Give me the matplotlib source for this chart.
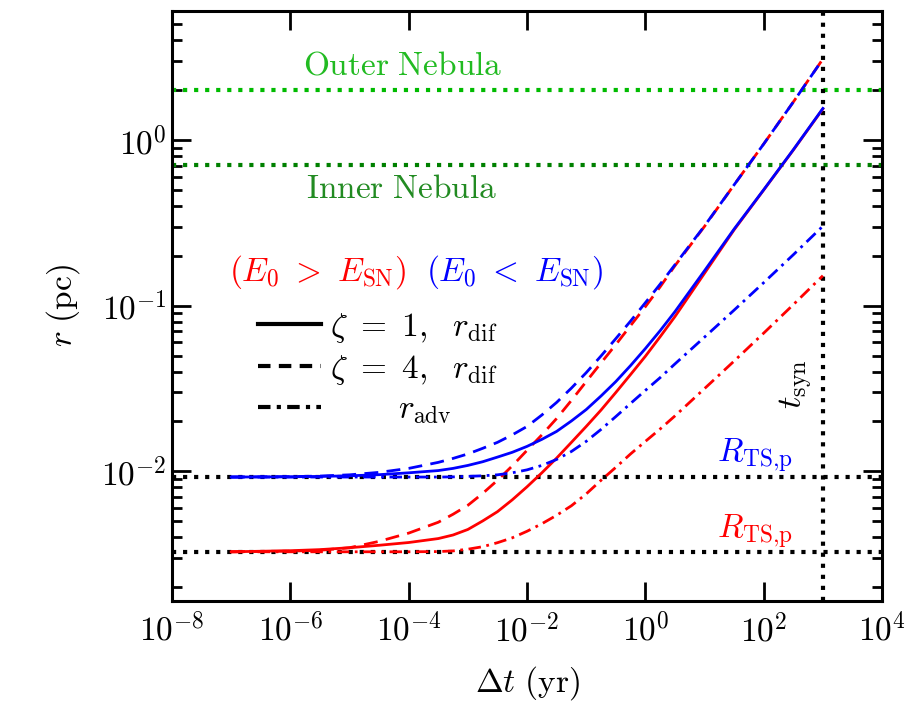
import math
import matplotlib
matplotlib.use('Agg')
import matplotlib.pyplot as plt
from matplotlib.lines import Line2D
from matplotlib.ticker import FuncFormatter, NullLocator

plt.rcParams['mathtext.fontset'] = 'cm'
plt.rcParams['font.family'] = ['cmr10', 'DejaVu Serif']
plt.rcParams['axes.formatter.use_mathtext'] = True

# time since injection (yr)
t_yr = [1e-7, 1e-6, 3.16e-6, 1e-5, 3.16e-5, 1e-4, 3.16e-4, 5.62e-4, 1e-3, 1.78e-3,
        3.16e-3, 5.62e-3, 1e-2, 1.78e-2, 3.16e-2, 5.62e-2, 0.1, 0.178, 0.316, 0.562,
        1.0, 1.78, 3.16, 10.0, 31.6, 100.0, 316.0, 1000.0]

# E0 < E_SN (blue), radii in pc
blue_dif_z1 = [0.00924, 0.00927, 0.00932, 0.0094, 0.00955, 0.0098, 0.01011, 0.01042, 0.01086,
               0.01143, 0.01219, 0.01303, 0.01415, 0.0156, 0.01742, 0.02014, 0.0236, 0.0285,
               0.0348, 0.0435, 0.0551, 0.0707, 0.092, 0.1626, 0.29, 0.501, 0.873, 1.55]
blue_dif_z4 = [0.00924, 0.00929, 0.00937, 0.00953, 0.00986, 0.01042, 0.01133, 0.01197, 0.01274,
               0.01377, 0.01496, 0.0166, 0.01866, 0.02188, 0.02606, 0.0318, 0.0394, 0.0497,
               0.0632, 0.0807, 0.1042, 0.1349, 0.1766, 0.303, 0.536, 0.946, 1.694, 3.08]
blue_adv = [0.00924, 0.00924, 0.00924, 0.00924, 0.00924, 0.00924, 0.00924, 0.00926, 0.00933,
            0.0094, 0.00953, 0.0098, 0.01021, 0.01086, 0.0118, 0.01318, 0.01517, 0.01791,
            0.0214, 0.0257, 0.0308, 0.0368, 0.0445, 0.0646, 0.094, 0.1377, 0.2028, 0.302]

# E0 > E_SN (red)
red_dif_z1 = [0.00327, 0.00332, 0.00337, 0.00346, 0.00358, 0.00372, 0.00393, 0.00413, 0.00446,
              0.00502, 0.00571, 0.00673, 0.00807, 0.0098, 0.01202, 0.01496, 0.01866, 0.02344,
              0.0299, 0.0384, 0.0495, 0.065, 0.0859, 0.157, 0.287, 0.499, 0.869, 1.54]
red_dif_z4 = [0.00327, 0.0033, 0.00334, 0.00346, 0.00378, 0.00424, 0.00493, 0.00551, 0.00624,
              0.00736, 0.00883, 0.01079, 0.0134, 0.0166, 0.02084, 0.0268, 0.0348, 0.0451,
              0.0582, 0.0758, 0.0986, 0.13, 0.1742, 0.301, 0.536, 0.946, 1.694, 3.08]
red_adv = [0.00327, 0.00327, 0.00327, 0.00327, 0.00327, 0.00327, 0.00328, 0.00331, 0.00339,
           0.00351, 0.00371, 0.00397, 0.00435, 0.00483, 0.00543, 0.0062, 0.00731, 0.00883,
           0.01057, 0.01274, 0.01517, 0.01803, 0.0216, 0.0316, 0.0463, 0.0683, 0.1014, 0.1517]

R_ts_blue = 0.00924
R_ts_red = 0.00327
r_outer = 2.0
r_inner = 0.71
t_syn = 1000.0

x_ticks = [1e-8, 1e-6, 1e-4, 1e-2, 1e0, 1e2, 1e4]

RED = '#ff0000'
BLUE = '#0000ff'
dash = (5, 3)
dashdot = (4.5, 2, 1, 2)

fig = plt.figure(figsize=(9.15, 7.06), dpi=100)
ax = fig.add_axes([0.188, 0.1487, 0.776, 0.8357])
ax.set_xscale('log')
ax.set_yscale('log')
ax.set_xlim(1e-8, 1e4)
ax.set_ylim(1.65e-3, 6.0)

# reference levels
ax.axhline(r_outer, color='#00bb00', ls=':', lw=3)
ax.axhline(r_inner, color='#008000', ls=':', lw=3)
ax.axhline(R_ts_blue, color='k', ls=':', lw=3)
ax.axhline(R_ts_red, color='k', ls=':', lw=3)
ax.axvline(t_syn, color='k', ls=':', lw=3)

# curves: red first, blue on top
ax.plot(t_yr, red_dif_z1, color=RED, lw=2)
ax.plot(t_yr, red_dif_z4, color=RED, lw=2, dashes=dash)
ax.plot(t_yr, red_adv, color=RED, lw=2, dashes=dashdot)
ax.plot(t_yr, blue_dif_z1, color=BLUE, lw=2)
ax.plot(t_yr, blue_dif_z4, color=BLUE, lw=2, dashes=dash)
ax.plot(t_yr, blue_adv, color=BLUE, lw=2, dashes=dashdot)

# annotations
tr = ax.transAxes
ax.text(0.325, 0.907, r'$\rm Outer\ Nebula$', color='#22bb22', fontsize=24,
        ha='center', va='center', transform=tr)
ax.text(0.324, 0.698, r'$\rm Inner\ Nebula$', color='#228B22', fontsize=24,
        ha='center', va='center', transform=tr)
ax.text(0.08, 0.558, r'$(E_0\ >\ E_{\rm SN})$', color=RED, fontsize=24,
        ha='left', va='center', transform=tr)
ax.text(0.357, 0.558, r'$(E_0\ <\ E_{\rm SN})$', color=BLUE, fontsize=24,
        ha='left', va='center', transform=tr)
ax.text(0.767, 0.236, r'$R_{\rm TS{,}p}$', color=BLUE, fontsize=24,
        ha='left', va='baseline', transform=tr)
ax.text(0.767, 0.108, r'$R_{\rm TS{,}p}$', color=RED, fontsize=24,
        ha='left', va='baseline', transform=tr)
ax.text(0.879, 0.368, r'$t_{\rm syn}$', color='k', fontsize=25, rotation=90,
        ha='center', va='center', transform=tr)

handles = [Line2D([], [], color='k', lw=3),
           Line2D([], [], color='k', lw=3, dashes=(3, 2)),
           Line2D([], [], color='k', lw=3, dashes=(3, 1.5, 1, 1.5))]
labels = [r'$\zeta\ =\ 1,\ \ r_{\rm dif}$', r'$\zeta\ =\ 4,\ \ r_{\rm dif}$',
          r'$\qquad\ r_{\rm adv}$']
ax.legend(handles, labels, loc='upper left', bbox_to_anchor=(0.121, 0.492),
          frameon=False, fontsize=24, handlelength=1.9, handletextpad=0.25,
          labelspacing=0.25, borderpad=0, borderaxespad=0)


def pow10(v, pos):
    return r'$10^{%d}$' % round(math.log10(v))


ax.set_xticks(x_ticks)
ax.xaxis.set_minor_locator(NullLocator())
ax.xaxis.set_major_formatter(FuncFormatter(pow10))
ax.yaxis.set_major_formatter(FuncFormatter(pow10))
ax.tick_params(which='both', direction='in', top=True, right=True, width=2)
ax.tick_params(which='major', length=14, labelsize=24)
ax.tick_params(which='minor', length=7)
ax.tick_params(axis='x', which='major', pad=8)
ax.tick_params(axis='y', which='major', pad=4)
for s in ax.spines.values():
    s.set_linewidth(2.2)

ax.set_xlabel(r'$\Delta t\ (\rm yr)$', fontsize=24, labelpad=12)
ax.set_ylabel(r'$r\ (\rm pc)$', fontsize=24, labelpad=14)

fig.savefig('out.png', dpi=100)
